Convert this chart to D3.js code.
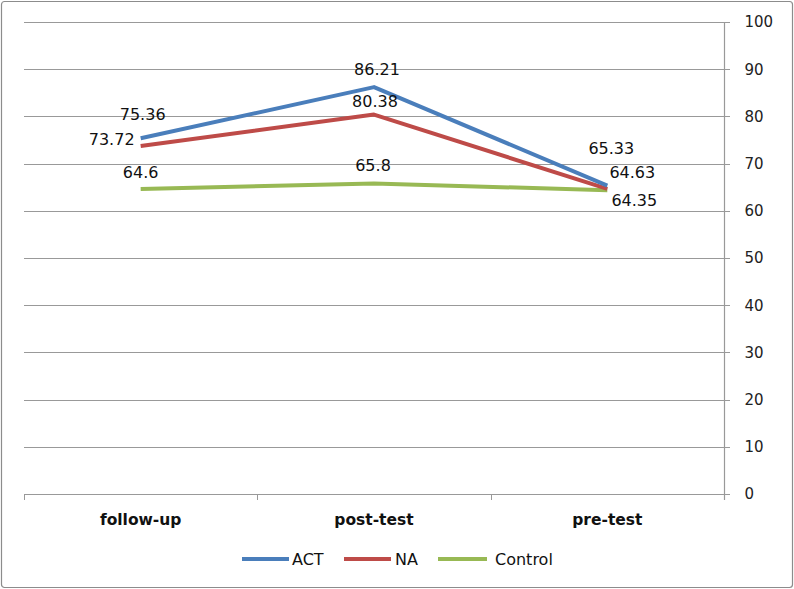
<!DOCTYPE html>
<html><head><meta charset="utf-8">
<script src="https://cdn.jsdelivr.net/npm/d3@7"></script>
<style>
html,body{margin:0;padding:0;background:#fff;}
svg{display:block;font-family:"DejaVu Sans",sans-serif;}
</style></head>
<body><svg id="c" width="794" height="589"></svg>
<script>
const categories = ["follow-up", "post-test", "pre-test"];
const seriesNames = ["ACT", "NA", "Control"];
const actValues = [75.36, 86.21, 65.33];
const naValues = [73.72, 80.38, 64.63];
const controlValues = [64.6, 65.8, 64.35];
const yTicks = [0, 10, 20, 30, 40, 50, 60, 70, 80, 90, 100];

(function () {
const FONT = "'DejaVu Sans',sans-serif";
const colors = ["#4A7EBB", "#BE4B48", "#98B954"];
// label placement per series per category: [dx, dy]
const labelOffsets = [
  [[2, -24], [3, -18], [4, -37]],
  [[-29, -7], [1, -13], [25, -16]],
  [[0, -17], [-1, -18], [27, 10]]
];

const svg = d3.select("#c");
const W = 794, H = 589;
svg.append("rect").attr("x", 1.5).attr("y", 1.5).attr("width", W - 3).attr("height", H - 3)
  .attr("rx", 3).attr("fill", "#fff").attr("stroke", "#8c8c8c").attr("stroke-width", 1.2);

const mLeft = 24, mRight = 724, mTop = 22, mBottom = 494;
const x = d3.scaleBand().domain(categories).range([mLeft, mRight]);
const y = d3.scaleLinear().domain([0, 100]).range([mBottom, mTop]);

// gridlines
svg.append("g").selectAll("line").data(yTicks).join("line")
  .attr("x1", mLeft).attr("x2", mRight + 6)
  .attr("y1", d => Math.round(y(d)) + 0.5).attr("y2", d => Math.round(y(d)) + 0.5)
  .attr("stroke", "#999").attr("stroke-width", 1.2);

// right axis
const yAxis = d3.axisRight(y).tickValues(yTicks).tickSize(0).tickPadding(20);
const ga = svg.append("g").attr("transform", `translate(${mRight + 0.5},0)`).call(yAxis);
ga.select(".domain").attr("stroke", "#999").attr("stroke-width", 1.2)
  .attr("d", `M0,${mTop}V${mBottom + 6}`);
ga.selectAll("text").attr("font-size", 15).attr("fill", "#222").attr("font-family", FONT);

// bottom axis
const xAxis = d3.axisBottom(x).tickSize(0).tickPadding(19);
const gx = svg.append("g").attr("transform", `translate(0,${mBottom + 0.5})`).call(xAxis);
gx.select(".domain").attr("stroke", "#999").attr("stroke-width", 1.2).attr("d", `M${mLeft},0H${mRight}`);
gx.selectAll("text").attr("font-size", 15.5).attr("font-weight", "bold").attr("fill", "#111").attr("font-family", FONT);
// category boundary ticks
const bounds = categories.map(c => x(c)).concat([x(categories[categories.length - 1]) + x.bandwidth()]);
svg.append("g").selectAll("line").data(bounds).join("line")
  .attr("x1", d => Math.round(d) + 0.5).attr("x2", d => Math.round(d) + 0.5)
  .attr("y1", mBottom).attr("y2", mBottom + 6).attr("stroke", "#999");

const allSeries = [actValues, naValues, controlValues];
const line = d3.line().x((d, i) => x(categories[i]) + x.bandwidth() / 2).y(d => y(d));

[2, 1, 0].forEach(s => {
  svg.append("path").datum(allSeries[s]).attr("d", line)
    .attr("fill", "none").attr("stroke", colors[s]).attr("stroke-width", 4)
    .attr("stroke-linejoin", "round").attr("stroke-linecap", "butt");
});

allSeries.forEach((vals, s) => {
  svg.append("g").selectAll("text").data(vals).join("text")
    .attr("x", (d, i) => x(categories[i]) + x.bandwidth() / 2 + labelOffsets[s][i][0])
    .attr("y", (d, i) => y(d) + labelOffsets[s][i][1])
    .attr("text-anchor", "middle").attr("dominant-baseline", "central")
    .attr("font-size", 16).attr("fill", "#111").attr("font-family", FONT)
    .text(d => d);
});

// legend
const legendItems = [
  {name: seriesNames[0], x1: 242, x2: 289, tx: 292},
  {name: seriesNames[1], x1: 344, x2: 391, tx: 395},
  {name: seriesNames[2], x1: 438, x2: 487, tx: 495}
];
const lg = svg.append("g");
legendItems.forEach((it, i) => {
  lg.append("line").attr("x1", it.x1).attr("x2", it.x2).attr("y1", 559).attr("y2", 559)
    .attr("stroke", colors[i]).attr("stroke-width", 4);
  lg.append("text").attr("x", it.tx).attr("y", 559.5).attr("dominant-baseline", "central")
    .attr("font-size", 16).attr("fill", "#111").attr("font-family", FONT).text(it.name);
});
})();
</script></body></html>
